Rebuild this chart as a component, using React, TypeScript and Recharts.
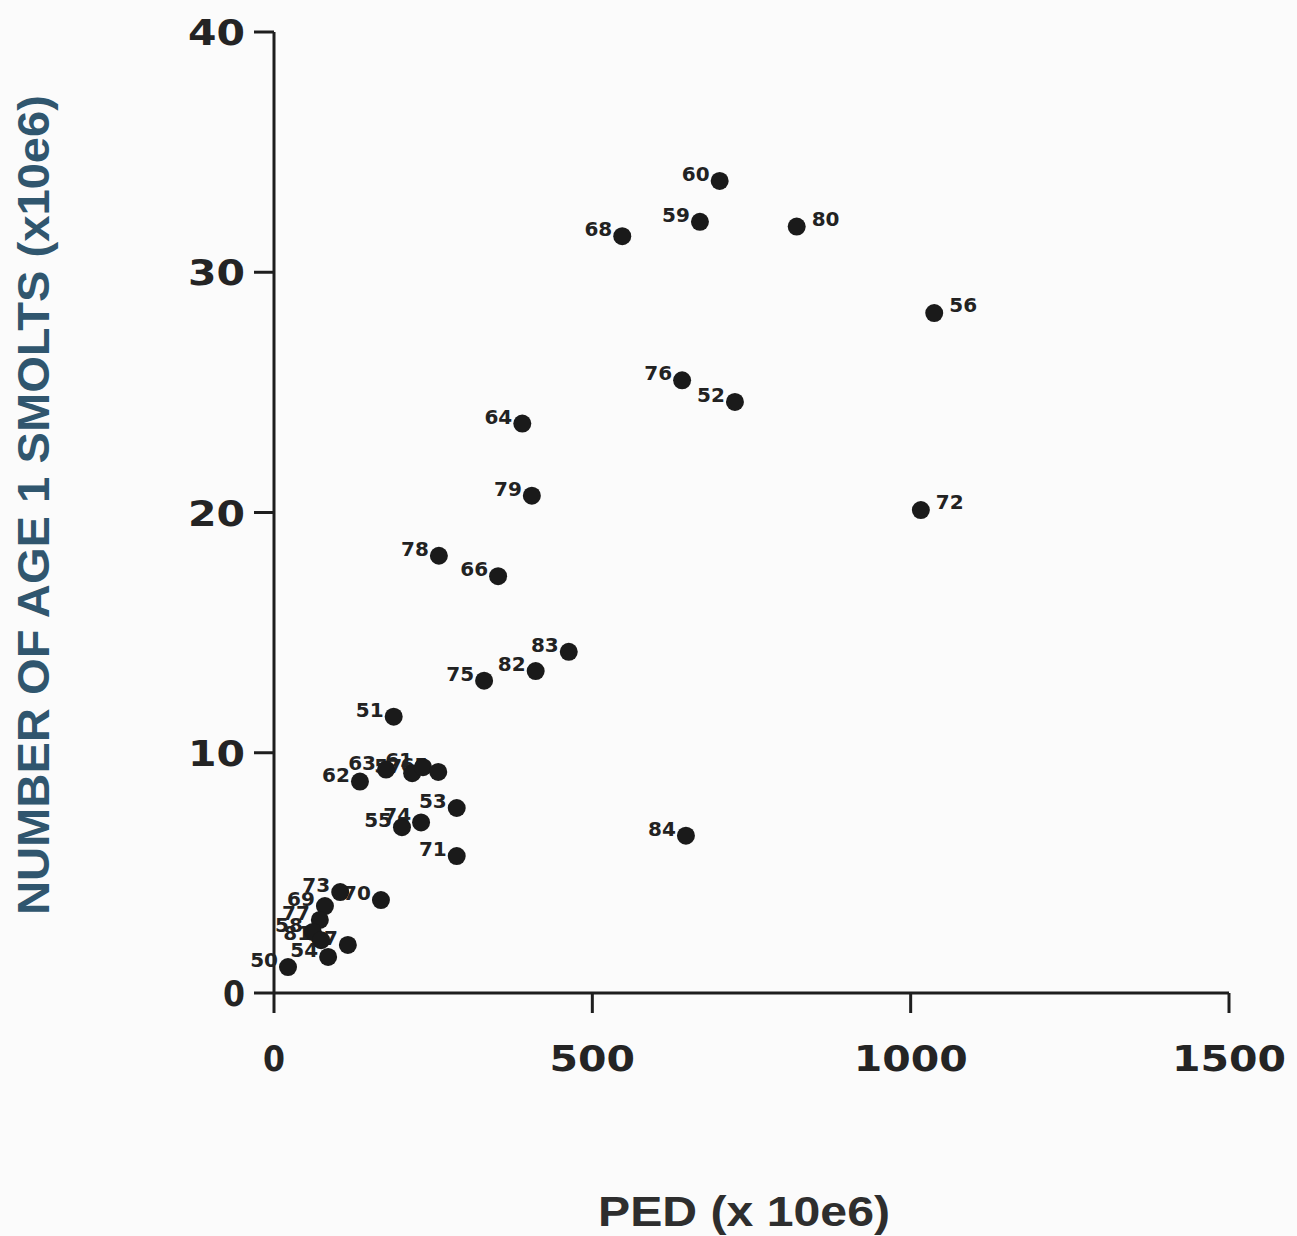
import { Scatter, ScatterChart, XAxis, YAxis } from "recharts";

// year labels, PED (x 10e6) and age-1 smolts (x 10e6)
const years = [
  "60", "59", "68", "80", "56", "76", "52", "64", "79", "72",
  "78", "66", "83", "82", "75", "51", "62", "63", "57", "61",
  "65", "53", "55", "74", "71", "84", "73", "70", "69", "77",
  "58", "81", "54", "67", "50",
];
const ped = [
  700, 669, 547, 821, 1037, 641, 724, 390, 405, 1016,
  259, 352, 463, 411, 330, 188, 135, 176, 217, 234,
  258, 287, 201, 231, 287, 647, 104, 168, 80, 72,
  61, 74, 85, 116, 22,
];
const smolts = [
  33.8, 32.1, 31.5, 31.9, 28.3, 25.5, 24.6, 23.7, 20.7, 20.1,
  18.2, 17.35, 14.2, 13.4, 13.0, 11.5, 8.8, 9.3, 9.15, 9.4,
  9.2, 7.7, 6.9, 7.1, 5.7, 6.55, 4.2, 3.87, 3.62, 3.04,
  2.54, 2.2, 1.5, 2.0, 1.08,
];
// years whose label sits to the right of the dot
const rightLabelled = ["80", "56", "72"];

const xTicks = [0, 500, 1000, 1500];
const yTicks = [0, 10, 20, 30, 40];

const points = years.map((yr, i) => ({ x: ped[i], y: smolts[i], label: yr }));

const INK = "#1e1e1e";
const DIGITS = "'DejaVu Sans', sans-serif";

function tickWidth(s: string) {
  return s.length === 1 ? 22 : s.length * 28.5;
}

function XTick(props: any) {
  const s = String(props.payload.value);
  return (
    <text
      x={props.x}
      y={1071}
      textAnchor="middle"
      fontFamily={DIGITS}
      fontWeight="bold"
      fontSize={36}
      fill="#242424"
      textLength={tickWidth(s)}
      lengthAdjust="spacingAndGlyphs"
    >
      {s}
    </text>
  );
}

function YTick(props: any) {
  const s = String(props.payload.value);
  return (
    <text
      x={245}
      y={props.y + 13}
      textAnchor="end"
      fontFamily={DIGITS}
      fontWeight="bold"
      fontSize={36}
      fill="#242424"
      textLength={tickWidth(s)}
      lengthAdjust="spacingAndGlyphs"
    >
      {s}
    </text>
  );
}

function YearLabel(props: any) {
  const { cx, cy, payload } = props;
  const right = rightLabelled.includes(payload.label);
  return (
    <text
      x={right ? cx + 15 : cx - 10}
      y={right ? cy - 1 : cy}
      textAnchor={right ? "start" : "end"}
      fontFamily={DIGITS}
      fontWeight="bold"
      fontSize={20}
      fill="#222"
    >
      {payload.label}
    </text>
  );
}

function Dot(props: any) {
  return <circle cx={props.cx} cy={props.cy} r={9} fill="#1a1a1a" />;
}

export default function App() {
  return (
    <div
      style={{
        position: "absolute",
        left: 0,
        top: 0,
        width: 1297,
        height: 1236,
        background: "#fbfbfb",
      }}
    >
      <ScatterChart
        width={1297}
        height={1236}
        margin={{ top: 32, right: 68, bottom: 213, left: 214 }}
      >
        <XAxis
          type="number"
          dataKey="x"
          domain={[0, 1500]}
          ticks={xTicks}
          height={30}
          tickSize={20}
          axisLine={{ stroke: INK, strokeWidth: 3 }}
          tickLine={{ stroke: INK, strokeWidth: 3 }}
          tick={<XTick />}
        />
        <YAxis
          type="number"
          dataKey="y"
          domain={[0, 40]}
          ticks={yTicks}
          width={60}
          tickSize={20}
          axisLine={{ stroke: INK, strokeWidth: 3 }}
          tickLine={{ stroke: INK, strokeWidth: 3 }}
          tick={<YTick />}
        />
        <Scatter data={points} shape={YearLabel} isAnimationActive={false} />
        <Scatter data={points} shape={Dot} isAnimationActive={false} />
      </ScatterChart>
      <svg
        width={1297}
        height={1236}
        style={{ position: "absolute", left: 0, top: 0, pointerEvents: "none" }}
      >
        <text
          transform="translate(49,505) rotate(-90)"
          textAnchor="middle"
          fontFamily="'Liberation Sans', Arial, sans-serif"
          fontWeight="bold"
          fontSize={45}
          fill="#30566e"
          textLength={820}
          lengthAdjust="spacingAndGlyphs"
        >
          NUMBER OF AGE 1 SMOLTS (x10e6)
        </text>
        <text
          x={744}
          y={1226}
          textAnchor="middle"
          fontFamily="'Liberation Sans', Arial, sans-serif"
          fontWeight="bold"
          fontSize={42}
          fill="#2e2e2e"
          textLength={292}
          lengthAdjust="spacingAndGlyphs"
        >
          PED (x 10e6)
        </text>
      </svg>
    </div>
  );
}
